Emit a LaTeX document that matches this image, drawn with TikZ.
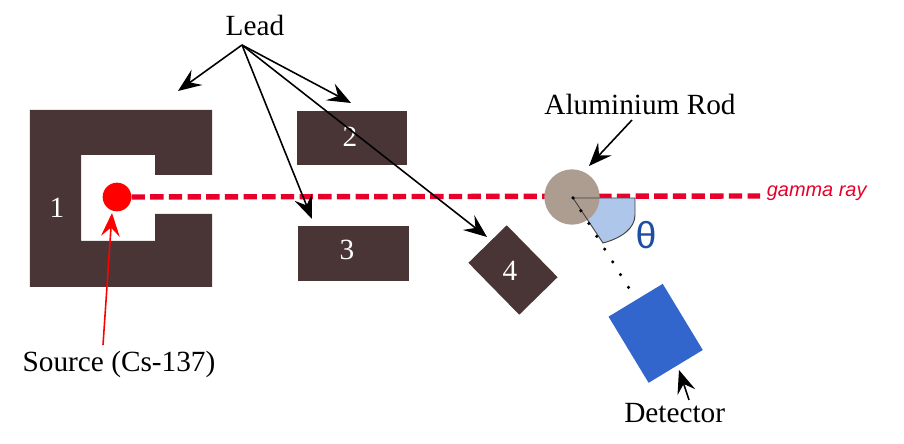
\documentclass[tikz,border=0pt]{standalone}
\usepackage{fontspec}
\setmainfont{Liberation Serif}
\setsansfont{Liberation Sans}
\usetikzlibrary{positioning, arrows.meta}

\definecolor{leadbrown}{HTML}{4A3536}
\definecolor{rodgrey}{HTML}{AD9C90}
\definecolor{wedgeblue}{HTML}{AEC6EA}
\definecolor{detblue}{HTML}{3366CC}
\definecolor{thetablue}{HTML}{1C4FA0}
\definecolor{rayred}{HTML}{E6002A}

\tikzset{
    labeltext/.style={font=\fontsize{25}{28}\selectfont, inner sep=0pt},
    digit/.style={labeltext, text=white},
    leadblock/.style={fill=leadbrown, inner sep=0pt},
    pointer/.style={-{Stealth[length=0.7cm, width=0.56cm, inset=0.26cm]}, line width=1.35pt}
}

\begin{document}
\begin{tikzpicture}
    \useasboundingbox (0,0) rectangle (27.12,-13.32);

    % Named points
    \coordinate (rodcentre) at (17.16,-5.91);
    \coordinate (apex) at (17.19,-5.94);
    \coordinate (rayend) at (22.8,-5.88);
    \coordinate (dotend) at (18.86,-8.63);

    % Lead castle around the source
    \fill[leadbrown] (0.9,-3.3) -- (6.36,-3.3) -- (6.36,-5.25) -- (4.65,-5.25) -- (4.65,-4.65)
        -- (2.43,-4.65) -- (2.43,-7.23) -- (4.65,-7.23) -- (4.65,-6.42) -- (6.36,-6.42)
        -- (6.36,-8.61) -- (0.9,-8.61) -- cycle;
    \node[digit] (numone) at (1.71,-6.24) {1};

    % Lead blocks
    \node[leadblock, minimum width=3.3cm, minimum height=1.62cm] (blocktwo) at (10.56,-4.14) {};
    \node[leadblock, minimum width=3.33cm, minimum height=1.65cm] (blockthree) at (10.605,-7.605) {};
    \node[leadblock, minimum width=2.18cm, minimum height=1.61cm, rotate=-45.6] (blockfour) at (15.39,-8.1) {};
    \node[digit] (numtwo) at (10.5,-4.11) {2};
    \node[digit] (numthree) at (10.41,-7.5) {3};
    \node[digit] (numfour) at (15.3,-8.13) {4};

    % Source and beam
    \node[circle, fill=red, minimum size=0.86cm, inner sep=0pt] (source) at (3.51,-5.91) {};
    \draw[rayred, line width=4.6pt, dash pattern=on 0.4cm off 0.16cm] (source) -- (rayend);
    \node[anchor=west, inner sep=0pt, text=rayred, font=\sffamily\itshape\fontsize{17}{20}\selectfont] (gammalabel) at (23.0,-5.79) {gamma ray};

    % Scattering angle and rod
    \fill[wedgeblue] (apex) -- (19.05,-5.94) -- (19.05,-6.45) .. controls (19.05,-6.84) and (18.66,-7.14) .. (18.09,-7.29) -- cycle;
    \node[circle, fill=rodgrey, minimum size=1.66cm, inner sep=0pt] (rod) at (rodcentre) {};
    \draw[black!75, line width=0.8pt] (apex) -- (19.05,-5.94) -- (19.05,-6.45) .. controls (19.05,-6.84) and (18.66,-7.14) .. (18.09,-7.29) -- cycle;
    \node[text=thetablue, inner sep=0pt, font=\sffamily\fontsize{32}{34}\selectfont] (theta) at (19.38,-7.06) {θ};

    % Detector
    \draw[line width=3pt, line cap=round, dash pattern=on 0pt off 0.451cm] (apex) -- (dotend);
    \node[fill=detblue, inner sep=0pt, minimum width=2.32cm, minimum height=1.9cm, rotate=-58.8] (detector) at (19.67,-10.0) {};

    % Labels
    \node[labeltext] (lead) at (7.65,-0.75) {Lead};
    \node[labeltext] (rodlabel) at (19.2,-3.12) {Aluminium Rod};
    \node[labeltext] (detlabel) at (20.24,-12.39) {Detector};
    \node[labeltext] (sourcelabel) at (3.57,-10.92) {Source (Cs-137)};

    % Arrows from Lead
    \coordinate (leadtip) at (7.26,-1.35);
    \coordinate (toone) at (5.34,-2.73);
    \coordinate (totwo) at (10.53,-3.09);
    \coordinate (tothree) at (9.36,-6.57);
    \coordinate (tofour) at (14.61,-7.11);
    \foreach \target in {toone, totwo, tothree, tofour} {
        \draw[pointer] (leadtip) -- (\target);
    }

    % Other arrows
    \coordinate (rodfrom) at (18.96,-3.6);
    \coordinate (rodto) at (17.67,-4.98);
    \draw[pointer] (rodfrom) -- (rodto);
    \coordinate (detfrom) at (20.67,-12.0);
    \coordinate (detto) at (20.37,-11.1);
    \draw[pointer] (detfrom) -- (detto);
    \coordinate (sourcefrom) at (3.09,-10.35);
    \coordinate (sourceto) at (3.36,-6.39);
    \draw[pointer, red] (sourcefrom) -- (sourceto);
\end{tikzpicture}
\end{document}
